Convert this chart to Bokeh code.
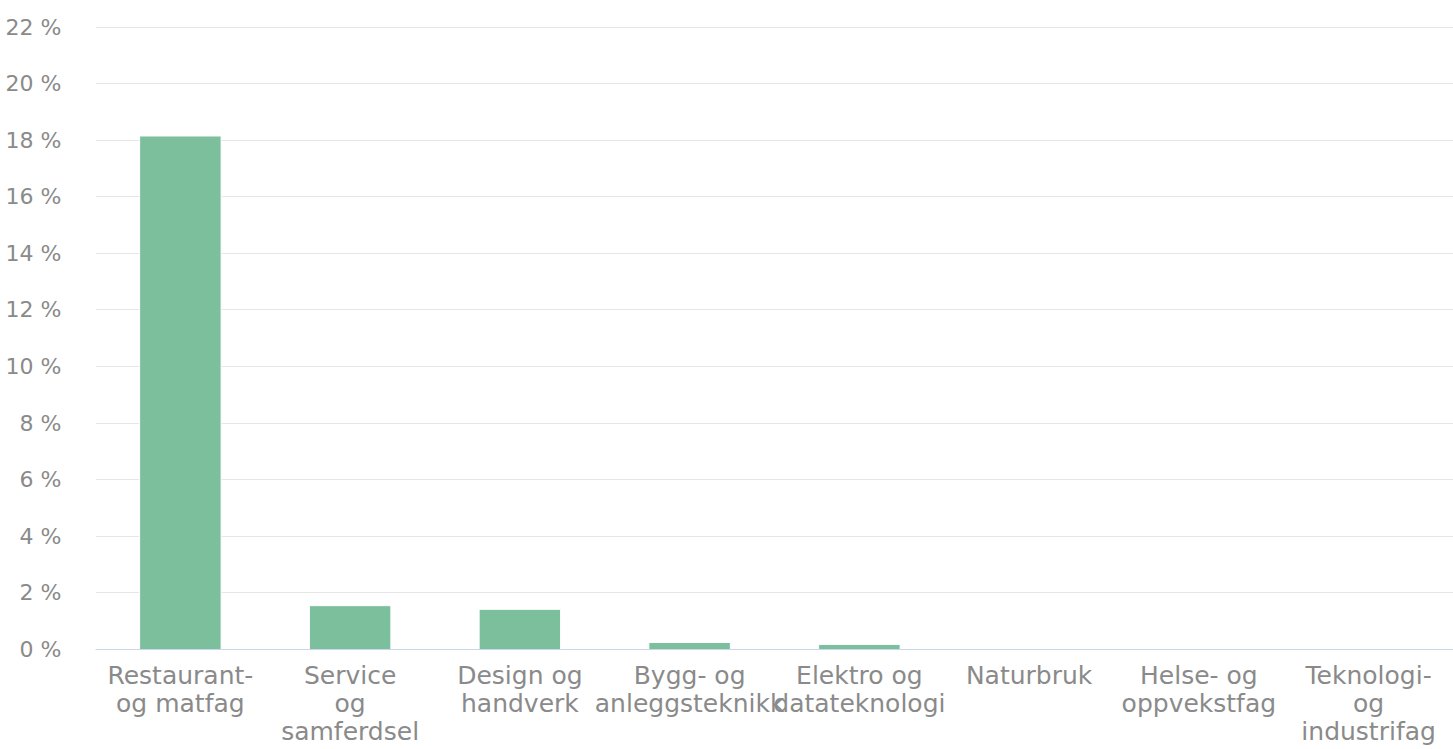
from bokeh.plotting import figure
from bokeh.models import FactorRange, Range1d, FixedTicker, ColumnDataSource
from bokeh.embed import file_html
from bokeh.resources import INLINE

categories = ["Restaurant-\nog matfag", "Service\nog\nsamferdsel", "Design og\nhandverk",
              "Bygg- og\nanleggsteknikk", "Elektro og\ndatateknologi", "Naturbruk",
              "Helse- og\noppvekstfag", "Teknologi-\nog\nindustrifag"]
values = [18.15, 1.55, 1.42, 0.25, 0.18, 0.02, 0.01, 0.0]
y_ticks = list(range(0, 23, 2))
y_tick_labels = [f"{t} %" for t in y_ticks]

src = ColumnDataSource(dict(cat=categories, val=values))

p = figure(width=1453, height=748, x_range=FactorRange(*categories, range_padding=0),
           y_range=Range1d(0, 22.02), output_backend="svg", toolbar_location=None,
           min_border_left=95, min_border_right=0, min_border_top=26, min_border_bottom=20)
p.outline_line_color = None
p.vbar(x="cat", top="val", width=0.48, source=src, fill_color="#7cbf9c",
       line_color="white", line_width=1)

p.yaxis.ticker = FixedTicker(ticks=y_ticks)
p.yaxis.major_label_overrides = {t: l for t, l in zip(y_ticks, y_tick_labels)}
p.yaxis.axis_line_color = None
p.yaxis.major_tick_line_color = None
p.yaxis.minor_tick_line_color = None
p.yaxis.major_label_text_font = "DejaVu Sans"
p.yaxis.major_label_text_font_size = "22px"
p.yaxis.major_label_text_color = "#8a8a8a"
p.yaxis.major_label_standoff = 28

p.xaxis.axis_line_color = "#ccd6eb"
p.xaxis.major_tick_line_color = None
p.xaxis.major_label_text_font = "DejaVu Sans"
p.xaxis.major_label_text_font_size = "25px"
p.xaxis.major_label_text_color = "#8a8a8a"
p.xaxis.major_label_standoff = 5
p.xaxis.major_label_text_line_height = 0.97

p.xgrid.grid_line_color = None
p.ygrid.grid_line_color = "#e6e6e6"
p.ygrid.grid_line_width = 1

open("out.html", "w").write(file_html(p, INLINE))
